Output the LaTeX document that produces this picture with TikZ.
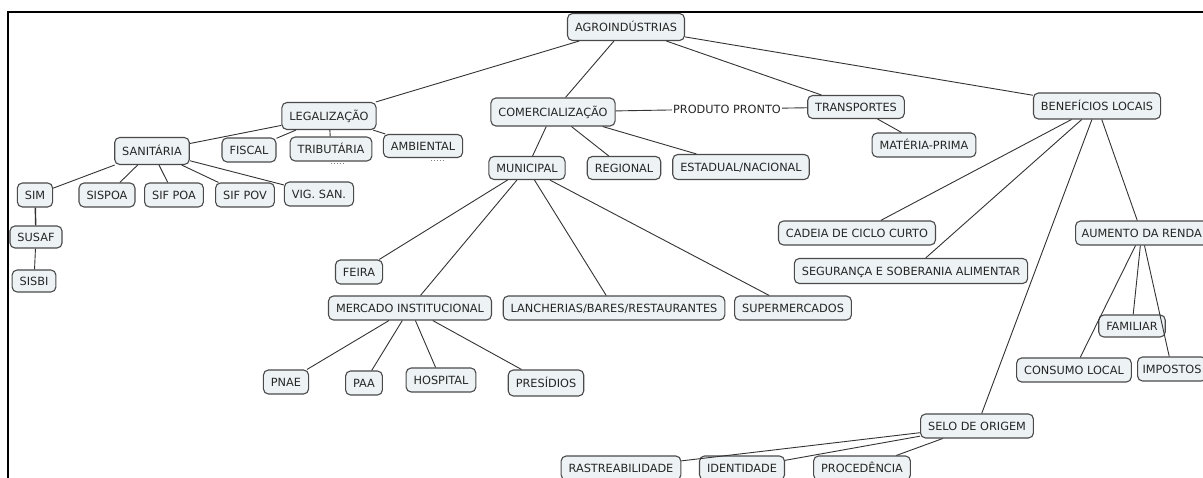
\documentclass[tikz,border=0pt]{standalone}
\usepackage{fontspec}
\setmainfont{DejaVu Sans}
\usepackage{xcolor}
\usepackage{tikz}

\definecolor{boxfill}{HTML}{EDF2F5}
\definecolor{boxline}{HTML}{4A4A4A}
\definecolor{boxtext}{HTML}{262626}
\definecolor{linecol}{HTML}{333333}

\begin{document}
\begin{tikzpicture}[
        x=1pt, y=-1pt,
        box/.style={rectangle, rounded corners=5pt, draw=boxline, line width=1.1pt, fill=boxfill, text=boxtext, font=\fontsize{11.3}{13}\selectfont, inner xsep=7.5pt, inner ysep=0pt, text height=8.2pt, text depth=0pt, minimum height=24pt},
        lbl/.style={font=\fontsize{11.3}{13}\selectfont, text=boxtext, inner xsep=1pt, inner ysep=0pt, text height=8.2pt, text depth=0pt},
        link/.style={draw=linecol, line width=0.9pt},
        frame/.style={line width=2pt, black},
        more/.style={dotted, line width=0.9pt, gray},
    ]
        \useasboundingbox (0,0) rectangle (1203,478);
        \draw[frame] (1203,12) -- (8,12) -- (8,478);

        % top level
        \node[box, minimum height=27pt] (agro) at (626,27) {AGROINDÚSTRIAS};
        \node[box, minimum height=27pt] (legal) at (329,116) {LEGALIZAÇÃO};
        \node[box, minimum height=28pt] (comerc) at (553,112) {COMERCIALIZAÇÃO};
        \node[lbl] (pronto) at (727,109) {PRODUTO PRONTO};
        \node[box, minimum height=23pt] (transp) at (856,107) {TRANSPORTES};
        \node[box, minimum height=26pt] (benef) at (1097,106) {BENEFÍCIOS LOCAIS};

        % legalizacao
        \node[box, minimum height=27pt] (sanit) at (152,151) {SANITÁRIA};
        \node[box] (fiscal) at (249,150) {FISCAL};
        \node[box] (tribut) at (331,149) {TRIBUTÁRIA};
        \node[box, minimum height=23pt] (ambient) at (423,146) {AMBIENTAL};
        \node[box] (sim) at (35,195) {SIM};
        \node[box] (sispoa) at (107,195) {SISPOA};
        \node[box] (sifpoa) at (174,195) {SIF POA};
        \node[box] (sifpov) at (245,195) {SIF POV};
        \node[box] (vigsan) at (319,194) {VIG. SAN.};
        \node[box, minimum height=22pt] (susaf) at (36,237) {SUSAF};
        \node[box, minimum height=22pt] (sisbi) at (34,281) {SISBI};

        % comercializacao
        \node[box, minimum height=23pt] (munic) at (527,168) {MUNICIPAL};
        \node[box, minimum height=23pt] (region) at (624,168) {REGIONAL};
        \node[box, minimum height=25pt] (estad) at (741,167) {ESTADUAL/NACIONAL};
        \node[box] (feira) at (359,272) {FEIRA};
        \node[box] (mercado) at (410,308) {MERCADO INSTITUCIONAL};
        \node[box] (lanch) at (614,308) {LANCHERIAS/BARES/RESTAURANTES};
        \node[box] (superm) at (793,308) {SUPERMERCADOS};
        \node[box] (pnae) at (286,382) {PNAE};
        \node[box] (paa) at (364,383) {PAA};
        \node[box] (hosp) at (441,380) {HOSPITAL};
        \node[box, minimum height=26pt] (presid) at (546,383) {PRESÍDIOS};

        % transportes
        \node[box] (materia) at (924,145) {MATÉRIA-PRIMA};

        % beneficios locais
        \node[box] (cadeia) at (857,233) {CADEIA DE CICLO CURTO};
        \node[box, minimum height=25pt] (segur) at (911,271) {SEGURANÇA E SOBERANIA ALIMENTAR};
        \node[box, anchor=west, inner xsep=6pt] (aumento) at (1075,233) {AUMENTO DA RENDA};
        \node[box, minimum height=22pt] (familiar) at (1132,326) {FAMILIAR};
        \node[box] (consumo) at (1074,370) {CONSUMO LOCAL};
        \node[box, anchor=west, inner xsep=5pt] (impostos) at (1137,369) {IMPOSTOS};
        \node[box] (selo) at (977,426) {SELO DE ORIGEM};
        \node[box] (rastro) at (621,468) {RASTREABILIDADE};
        \node[box] (ident) at (742,468) {IDENTIDADE};
        \node[box] (proced) at (862,468) {PROCEDÊNCIA};

        % connectors
        \draw[link] (agro) -- (legal);
        \draw[link] (agro) -- (comerc);
        \draw[link] (agro) -- (transp);
        \draw[link] (agro) -- (benef);
        \draw[link] (comerc) -- (pronto) -- (transp);
        \draw[link] (transp) -- (materia);

        \draw[link] (legal) -- (sanit);
        \draw[link] (legal) -- (fiscal);
        \draw[link] (legal) -- (tribut);
        \draw[link] (legal) -- (ambient);
        \foreach \kid in {sim, sispoa, sifpoa, sifpov, vigsan}
            \draw[link] (sanit) -- (\kid);
        \draw[link, line width=1.4pt] (sim) -- (susaf);
        \draw[link] (susaf) -- (sisbi);
        \draw[more] ([xshift=0pt, yshift=-2pt]tribut.south) -- ++(12,0);
        \draw[more] ([xshift=8pt, yshift=-2pt]ambient.south) -- ++(12,0);

        \draw[link] (comerc) -- (munic);
        \draw[link] (comerc) -- (region);
        \draw[link] (comerc) -- (estad);
        \foreach \kid in {feira, mercado, lanch, superm}
            \draw[link] (munic) -- (\kid);
        \foreach \kid in {pnae, paa, hosp, presid}
            \draw[link] (mercado) -- (\kid);

        \foreach \kid in {cadeia, segur, selo, aumento}
            \draw[link] (benef) -- (\kid);
        \foreach \kid in {familiar, consumo, impostos}
            \draw[link] (aumento) -- (\kid);
        \foreach \kid in {rastro, ident, proced}
            \draw[link] (selo) -- (\kid);
    \end{tikzpicture}
\end{document}
